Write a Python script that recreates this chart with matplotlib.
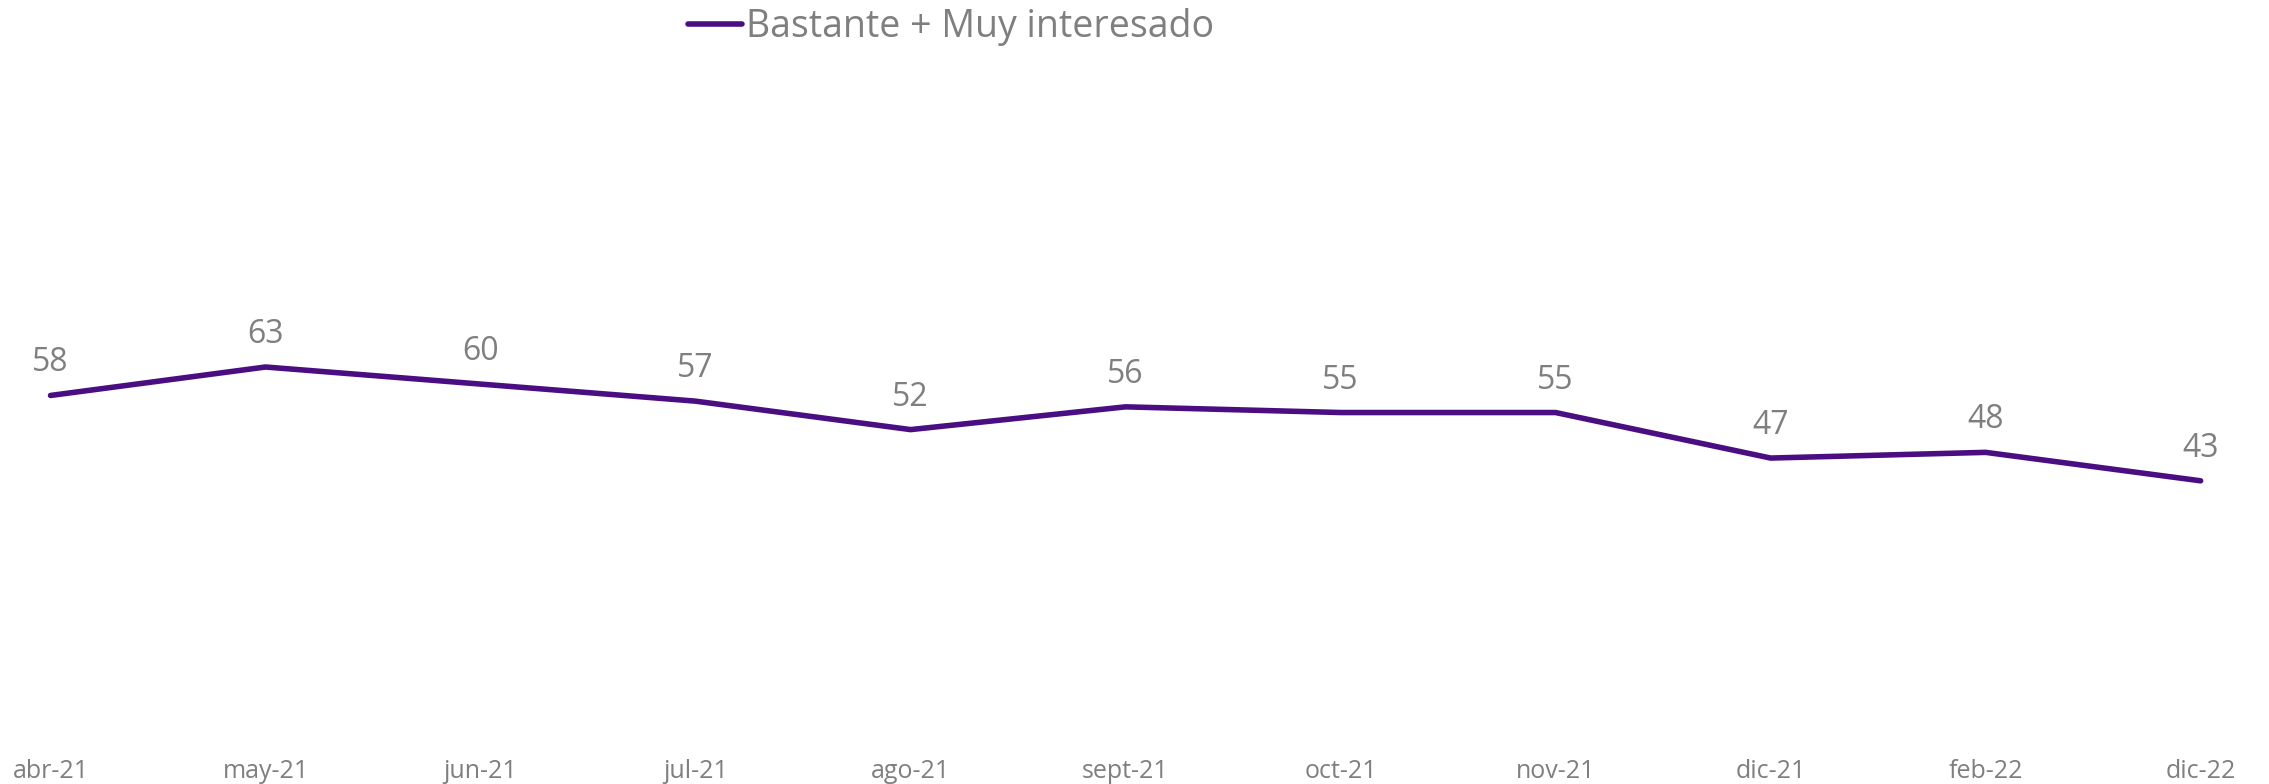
import matplotlib
matplotlib.use("Agg")
import matplotlib.pyplot as plt

# Data
months = ["abr-21", "may-21", "jun-21", "jul-21", "ago-21", "sept-21",
          "oct-21", "nov-21", "dic-21", "feb-22", "dic-22"]
interest = [58, 63, 60, 57, 52, 56, 55, 55, 47, 48, 43]
series_name = "Bastante + Muy interesado"

line_color = "#4a0e82"
text_color = "#7f7f7f"
plt.rcParams["font.family"] = ["Open Sans", "DejaVu Sans"]

fig = plt.figure(figsize=(22.69, 7.84), dpi=100)
ax = fig.add_axes([0, 32 / 784, 1, 752 / 784])

x = list(range(len(months)))
ax.plot(x, interest, color=line_color, lw=4, solid_capstyle="round",
        label=series_name)

# value labels above each point
for xi, v in zip(x, interest):
    ax.annotate(str(v), (xi, v), xytext=(0, 11.5), textcoords="offset points",
                ha="center", va="bottom", fontsize=23, color=text_color)

ax.set_xlim(-0.235, 10.318)
ax.set_ylim(-4.66, 127.5)
ax.set_xticks(x)
ax.set_xticklabels(months)
ax.tick_params(axis="x", length=0, pad=5, labelsize=18, labelcolor=text_color)
ax.set_yticks([])
for s in ax.spines.values():
    s.set_visible(False)

fig.legend(loc="upper left", bbox_to_anchor=(684 / 2269, 1 - 4 / 784), frameon=False,
           fontsize=27, labelcolor=text_color, handlelength=1.45,
           handletextpad=0.1, borderpad=0, borderaxespad=0.1)

fig.savefig("out.png", dpi=100)
